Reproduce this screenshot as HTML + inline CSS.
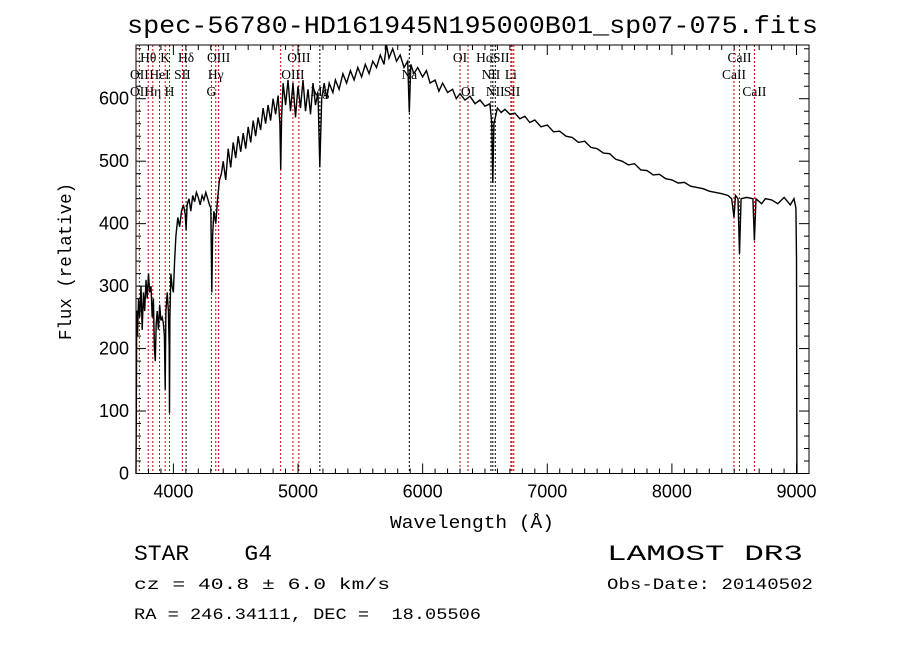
<!DOCTYPE html>
<html><head><meta charset="utf-8">
<style>
html,body{margin:0;padding:0;background:#fff;}
svg{display:block;}
.t{font-family:"Liberation Mono",monospace;fill:#000;white-space:pre;}
.lab{font-family:"Liberation Serif",serif;font-size:13.5px;fill:#000;}
</style></head>
<body>
<svg id="chart" width="900" height="649" viewBox="0 0 900 649" xmlns="http://www.w3.org/2000/svg" xml:space="preserve">
<rect width="900" height="649" fill="#fff"/>
<text class="t" x="127" y="33" font-size="25" textLength="691" lengthAdjust="spacingAndGlyphs">spec-56780-HD161945N195000B01_sp07-075.fits</text>
<g id="lines"></g>
<g id="series"></g>
<g id="axes"></g>
<g id="labels"></g>
<text class="t" x="390" y="528" font-size="18" textLength="164" lengthAdjust="spacingAndGlyphs">Wavelength (Å)</text>
<text class="t" transform="translate(71,340) rotate(-90)" font-size="18" textLength="157" lengthAdjust="spacingAndGlyphs">Flux (relative)</text>
<text class="t" x="134" y="560" font-size="22" textLength="138" lengthAdjust="spacingAndGlyphs">STAR    G4</text>
<text class="t" x="607" y="560" font-size="22" textLength="196" lengthAdjust="spacingAndGlyphs">LAMOST DR3</text>
<text class="t" x="134" y="589" font-size="16" textLength="256" lengthAdjust="spacingAndGlyphs">cz = 40.8 ± 6.0 km/s</text>
<text class="t" x="607" y="589" font-size="16" textLength="206" lengthAdjust="spacingAndGlyphs">Obs-Date: 20140502</text>
<text class="t" x="134" y="619" font-size="16" textLength="347" lengthAdjust="spacingAndGlyphs">RA = 246.34111, DEC =  18.05506</text>
</svg>
<script>
const wave = [
3700,3703,3706,3712,3720,3730,3740,3750,3760,3770,
3780,3790,3800,3810,3820,3830,3840,3848,3855,3862,
3870,3880,3890,3900,3910,3920,3928,3934,3940,3950,
3960,3966,3969,3972,3980,3990,4000,4010,4020,4035,
4050,4065,4080,4095,4102,4110,4125,4140,4155,4170,
4185,4200,4215,4230,4245,4260,4275,4290,4300,4308,
4315,4325,4340,4355,4370,4385,4400,4420,4440,4460,
4480,4500,4520,4540,4560,4580,4600,4620,4640,4660,
4680,4700,4720,4740,4760,4780,4800,4820,4840,4855,
4861,4868,4880,4900,4920,4940,4960,4980,5000,5020,
5040,5060,5080,5100,5120,5140,5160,5175,5190,5210,
5230,5250,5280,5300,5330,5360,5390,5420,5450,5480,
5510,5540,5570,5600,5630,5660,5690,5710,5730,5760,
5790,5820,5850,5880,5893,5905,5930,5960,6000,6030,
6060,6100,6130,6160,6200,6240,6270,6300,6340,6380,
6420,6460,6500,6540,6555,6563,6572,6600,6630,6660,
6700,6740,6780,6820,6860,6900,6950,7000,7050,7100,
7150,7200,7250,7300,7350,7400,7450,7500,7550,7600,
7650,7700,7750,7800,7850,7900,7950,8000,8050,8100,
8150,8200,8250,8300,8350,8400,8450,8480,8498,8510,
8530,8542,8555,8600,8650,8662,8675,8720,8750,8800,
8850,8900,8950,8980,8995,9000,9003];
const flux = [
0,120,260,220,280,250,300,230,290,260,
310,280,320,290,300,250,280,200,180,240,
260,230,270,245,250,240,220,134,260,290,
260,200,97,250,320,300,290,340,380,410,
395,420,430,415,390,430,440,420,445,435,
450,442,430,445,438,450,440,430,425,290,
380,420,400,440,470,480,500,470,520,490,
530,505,540,515,545,520,555,530,565,540,
570,550,585,560,590,565,600,575,605,560,
486,570,625,590,630,580,625,570,620,585,
630,580,615,575,625,590,610,490,600,625,
600,625,610,630,615,640,625,645,630,650,
635,655,640,660,650,670,655,686,665,680,
660,670,650,660,578,655,640,650,635,645,
625,630,612,625,610,615,600,608,598,604,
592,598,588,592,560,465,560,585,578,583,
575,577,568,572,562,566,555,558,547,548,
540,538,530,532,522,520,513,512,503,500,
494,496,486,485,478,479,472,470,465,466,
460,458,456,452,450,448,445,440,410,445,
440,352,440,442,440,373,440,432,440,438,
432,442,430,440,425,345,0];
const tickX = [4000,5000,6000,7000,8000,9000];
const tickY = [0,100,200,300,400,500,600];
const lineWaves = [3727,3798,3835,3889,3934,3969,4072,4102,4305,4340,4363,4861,4959,5007,5175,5893,6300,6364,6548,6563,6583,6708,6717,6731,8498,8542,8662];
const lineBlack = [0,0,0,0,0,0,0,1,0,0,0,0,0,0,1,1,0,0,1,1,1,0,0,0,0,0,0];
const labelText = ["Hθ","K","Hδ","OIII","OIII","OI","HαSII","CaII","OII","HeI","SII","Hγ","OIII","Na","NII","Li","CaII","OII","Hη","H","G","Mg","OI","NII","SII","CaII"];
const labelWave = [3798,3934,4102,4363,5007,6300,6563,8542,3727,3889,4072,4340,4959,5893,6548,6708,8498,3727,3835,3969,4305,5175,6364,6583,6717,8662];
const labelRow = [0,0,0,0,0,0,0,0,1,1,1,1,1,1,1,1,1,2,2,2,2,2,2,2,2,2];

const X0=136,X1=809,Y0=473.5,Y1=45,WMIN=3700,WMAX=9100,FMIN=0,FMAX=686;
const xs = w => X0+(w-WMIN)/(WMAX-WMIN)*(X1-X0);
const ys = f => Y0-(f-FMIN)/(FMAX-FMIN)*(Y0-Y1);
const NS="http://www.w3.org/2000/svg";
function mk(tag,attrs,parent){const e=document.createElementNS(NS,tag);for(const k in attrs)e.setAttribute(k,attrs[k]);parent.appendChild(e);return e;}

const gL=document.getElementById('lines');
lineWaves.forEach((w,i)=>{
  const l=mk('line',{x1:xs(w),x2:xs(w),y1:Y1,y2:Y0,stroke:lineBlack[i]?'#000':'#c00','stroke-width':1,'stroke-dasharray':'2,2'},gL);
  
  
});

const gS=document.getElementById('series');
let d='';
const n=Math.min(wave.length,flux.length);
for(let i=0;i<n;i++){d+=(i?'L':'M')+xs(wave[i]).toFixed(1)+','+ys(flux[i]).toFixed(1);}
const p=mk('path',{d:d,fill:'none',stroke:'#000','stroke-width':1.4},gS);



const gA=document.getElementById('axes');
const fr=mk('rect',{x:X0,y:Y1,width:X1-X0,height:Y0-Y1,fill:'none',stroke:'#000','stroke-width':1},gA);


for(let w=3700;w<=9100;w+=100){
  const maj=w%1000===0, len=maj?10:5;
  mk('line',{x1:xs(w),x2:xs(w),y1:Y0,y2:Y0-len,stroke:'#000'},gA);
  mk('line',{x1:xs(w),x2:xs(w),y1:Y1,y2:Y1+len,stroke:'#000'},gA);
}
for(let f=0;f<=680;f+=20){
  const maj=f%100===0, len=maj?10:5;
  mk('line',{x1:X0,x2:X0+len,y1:ys(f),y2:ys(f),stroke:'#000'},gA);
  mk('line',{x1:X1,x2:X1-len,y1:ys(f),y2:ys(f),stroke:'#000'},gA);
}
tickX.forEach(w=>{
  const t=mk('text',{x:xs(w),y:Y0+24,'text-anchor':'middle','font-size':18,'font-family':'Liberation Sans, sans-serif'},gA);
  t.textContent=w;
  
  
});
tickY.forEach(f=>{
  const t=mk('text',{x:X0-7,y:ys(f)+6,'text-anchor':'end','font-size':18,'font-family':'Liberation Sans, sans-serif'},gA);
  t.textContent=f;
  
  
});

const gT=document.getElementById('labels');
const rowY=[62,79,96];
labelText.forEach((s,i)=>{
  const t=mk('text',{x:xs(labelWave[i]),y:rowY[labelRow[i]],'text-anchor':'middle',class:'lab'},gT);
  t.textContent=s;
  
  
});
</script>
</body></html>
